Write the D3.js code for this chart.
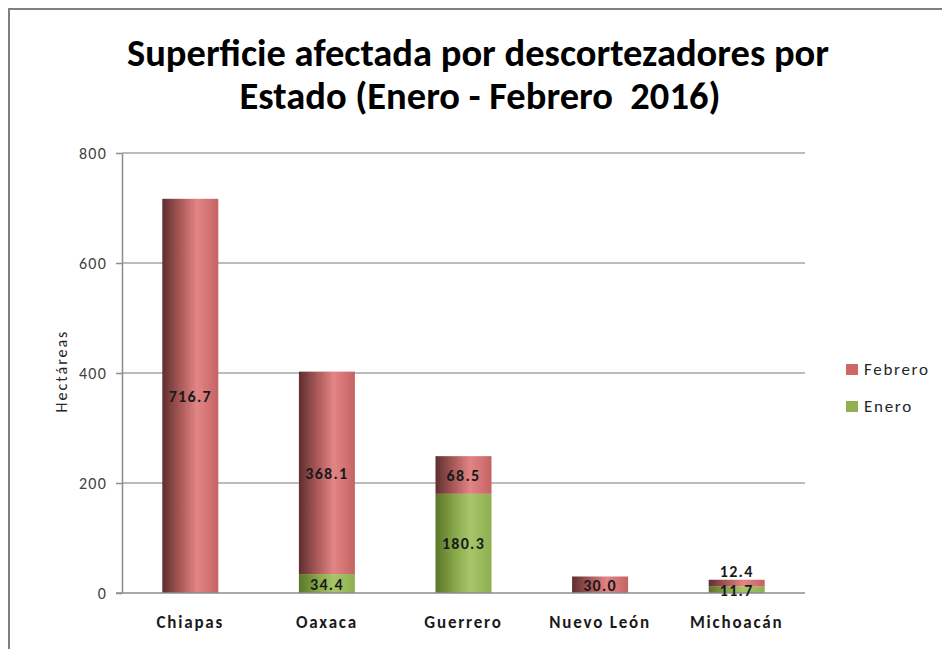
<!DOCTYPE html>
<html>
<head>
<meta charset="utf-8">
<script src="https://cdn.jsdelivr.net/npm/d3@7"></script>
<style>
  body { margin: 0; background: #fff; }
  text { font-family: Carlito, Calibri, "Open Sans", sans-serif; }
</style>
</head>
<body>
<svg id="chart" width="942" height="649"></svg>
<script>
// Chart data
var states = ["Chiapas", "Oaxaca", "Guerrero", "Nuevo León", "Michoacán"];
var enero = [0, 34.4, 180.3, 0, 11.7];
var febrero = [716.7, 368.1, 68.5, 30.0, 12.4];
var yTicks = [0, 200, 400, 600, 800];
var seriesNames = ["Enero", "Febrero"];

var svg = d3.select("#chart");

// Gradients for the cylinder look
var defs = svg.append("defs");
function addGradient(id, stops) {
  var g = defs.append("linearGradient").attr("id", id)
    .attr("x1", "0%").attr("x2", "100%").attr("y1", "0%").attr("y2", "0%");
  stops.forEach(function(s) {
    g.append("stop").attr("offset", s[0]).attr("stop-color", s[1]);
  });
}
addGradient("gradFeb", [["0%", "#5e2f2f"], ["35%", "#b05c5c"], ["62%", "#e28585"], ["100%", "#c66363"]]);
addGradient("gradEne", [["0%", "#5a7629"], ["35%", "#88a84a"], ["62%", "#a6c669"], ["100%", "#8eae50"]]);

// Outer frame
svg.append("rect")
  .attr("x", 9).attr("y", 9)
  .attr("width", 960).attr("height", 700)
  .attr("fill", "none")
  .attr("stroke", "#808080")
  .attr("stroke-width", 2);

// Title
var title = svg.append("text")
  .attr("text-anchor", "middle")
  .attr("font-size", 38.5)
  .attr("font-weight", "bold")
  .attr("fill", "#000")
  .style("white-space", "pre");
title.append("tspan").attr("x", 478).attr("y", 66).text("Superficie afectada por descortezadores por");
title.append("tspan").attr("x", 480).attr("y", 109).text("Estado (Enero - Febrero  2016)");

// Plot geometry
var margin = {left: 122, top: 153, right: 805, bottom: 593};

var x = d3.scaleBand()
  .domain(states)
  .range([margin.left, margin.right])
  .paddingInner(0.59)
  .paddingOuter(0.295);

var y = d3.scaleLinear()
  .domain([0, 800])
  .range([margin.bottom, margin.top]);

// Grid lines
svg.append("g")
  .selectAll("line")
  .data(yTicks.slice(1))
  .enter().append("line")
    .attr("x1", margin.left).attr("x2", margin.right)
    .attr("y1", d => y(d)).attr("y2", d => y(d))
    .attr("stroke", "#a6a6a6")
    .attr("stroke-width", 1.5);

// Y axis
var yAxis = d3.axisLeft(y).tickValues(yTicks).tickSize(6).tickPadding(9).tickSizeOuter(0);
var gy = svg.append("g")
  .attr("transform", "translate(" + margin.left + ",0)")
  .call(yAxis);
gy.select(".domain").attr("stroke", "#8c8c8c").attr("stroke-width", 1.5);
gy.selectAll(".tick line").attr("stroke", "#8c8c8c").attr("stroke-width", 1.5);
gy.selectAll(".tick text")
  .attr("font-size", 16)
  .attr("letter-spacing", 1.2)
  .attr("fill", "#404040")
  .style("font-family", "Carlito, Calibri, 'Open Sans', sans-serif");

// Y axis title
svg.append("text")
  .attr("transform", "translate(67,371) rotate(-90)")
  .attr("text-anchor", "middle")
  .attr("font-size", 16)
  .attr("letter-spacing", 2)
  .attr("fill", "#262626")
  .text("Hectáreas");

// Stacked data
var rows = states.map(function(s, i) {
  return {state: s, Enero: enero[i], Febrero: febrero[i]};
});
var stack = d3.stack().keys(seriesNames);
var layers = stack(rows);
var fills = {Enero: "url(#gradEne)", Febrero: "url(#gradFeb)"};

var barGroups = svg.append("g")
  .selectAll("g")
  .data(layers)
  .enter().append("g")
    .attr("fill", d => fills[d.key]);

barGroups.selectAll("rect")
  .data(d => d.map(function(p) { return {key: d.key, p: p}; }))
  .enter().append("rect")
    .filter(d => d.p[1] - d.p[0] > 0)
    .attr("x", d => x(d.p.data.state))
    .attr("width", x.bandwidth())
    .attr("y", d => y(d.p[1]))
    .attr("height", d => y(d.p[0]) - y(d.p[1]));

// X axis line
svg.append("line")
  .attr("x1", margin.left - 6).attr("x2", margin.right)
  .attr("y1", margin.bottom).attr("y2", margin.bottom)
  .attr("stroke", "#8c8c8c")
  .attr("stroke-width", 1.5);

// Category labels
svg.append("g")
  .selectAll("text")
  .data(states)
  .enter().append("text")
    .attr("x", d => x(d) + x.bandwidth() / 2)
    .attr("y", 628)
    .attr("text-anchor", "middle")
    .attr("font-size", 17)
    .attr("font-weight", "bold")
    .attr("letter-spacing", 1.8)
    .attr("fill", "#1a1a1a")
    .text(d => d);

// Data labels
var labels = [];
layers.forEach(function(layer) {
  layer.forEach(function(p) {
    var v = p[1] - p[0];
    if (v > 0) labels.push({key: layer.key, p: p, v: v});
  });
});
svg.append("g")
  .selectAll("text")
  .data(labels)
  .enter().append("text")
    .attr("x", d => x(d.p.data.state) + x.bandwidth() / 2)
    .attr("y", function(d) {
      var top = y(d.p[1]), bot = y(d.p[0]);
      // small top segment: label sits above the bar
      if (d.key === "Febrero" && bot - top < 10) return top - 3;
      return (top + bot) / 2 + 6;
    })
    .attr("text-anchor", "middle")
    .attr("font-size", 16)
    .attr("font-weight", "bold")
    .attr("letter-spacing", 1.3)
    .attr("fill", "#1a1a1a")
    .text(d => d3.format(".1f")(d.v));

// Legend
var legendItems = ["Febrero", "Enero"];
var legend = svg.append("g")
  .selectAll("g")
  .data(legendItems)
  .enter().append("g")
    .attr("transform", (d, i) => "translate(846," + (364 + i * 37) + ")");
legend.append("rect")
  .attr("width", 12).attr("height", 11)
  .attr("fill", d => d === "Febrero" ? "#d06767" : "#92b050");
legend.append("text")
  .attr("x", 18).attr("y", 11)
  .attr("font-size", 17)
  .attr("letter-spacing", 1.7)
  .attr("fill", "#262626")
  .text(d => d);
</script>
</body>
</html>
